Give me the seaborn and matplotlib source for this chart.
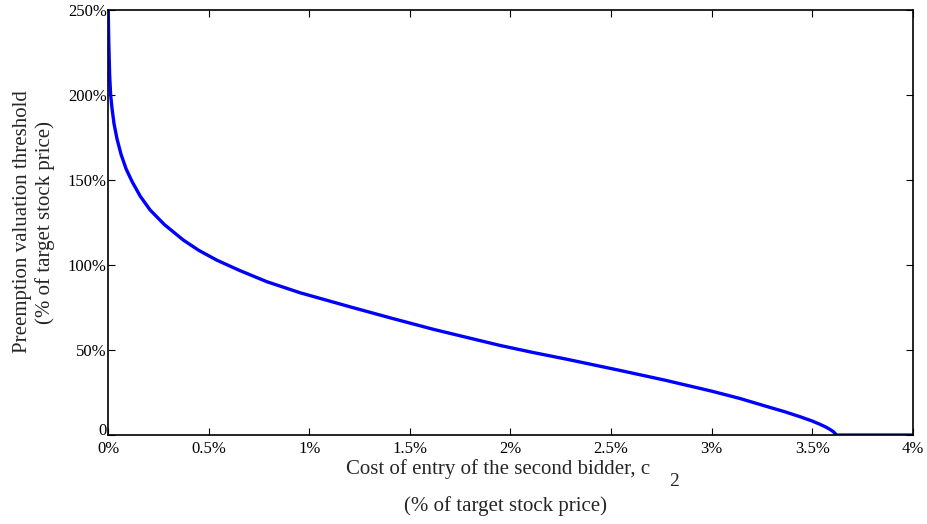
import matplotlib
matplotlib.use("Agg")
import matplotlib.pyplot as plt
import pandas as pd
import seaborn as sns

# cost of entry c2 (% of target stock price)
cost = [0.001, 0.004, 0.008, 0.013, 0.02, 0.03, 0.045, 0.065, 0.09, 0.12,
        0.16, 0.209, 0.28, 0.374, 0.45, 0.54, 0.65, 0.789, 0.954, 1.2, 1.4,
        1.616, 1.78, 1.948, 2.11, 2.279, 2.544, 2.77, 3.0, 3.14, 3.273, 3.36,
        3.438, 3.5, 3.538, 3.565, 3.588, 3.605, 3.62, 4.0]
# preemption valuation threshold (% of target stock price)
threshold = [250, 230, 212, 200, 192, 183, 174, 165, 156.5, 149,
             140.5, 132.4, 123.8, 114.7, 108.7, 102.9, 97, 90.2, 83.7, 75.5,
             69, 62.2, 57.5, 52.7, 48.6, 44.6, 38.0, 32.2, 25.8, 21.5, 16.8,
             13.8, 10.8, 8.2, 6.3, 4.8, 3.3, 1.9, 0, 0]

xticks = [0, 0.5, 1, 1.5, 2, 2.5, 3, 3.5, 4]
xtick_labels = ["0%", "0.5%", "1%", "1.5%", "2%", "2.5%", "3%", "3.5%", "4%"]
yticks = [0, 50, 100, 150, 200, 250]
ytick_labels = ["0", "50%", "100%", "150%", "200%", "250%"]

df = pd.DataFrame({"cost": cost, "threshold": threshold})

sns.set_style("ticks")
plt.rcParams["font.family"] = ["Liberation Serif", "DejaVu Serif"]
plt.rcParams["xtick.direction"] = "in"
plt.rcParams["ytick.direction"] = "in"

fig = plt.figure(figsize=(9.28, 5.24), dpi=100)
ax = fig.add_axes([0.1164, 0.1698, 0.8674, 0.8111])

sns.lineplot(data=df, x="cost", y="threshold", ax=ax, color="#0000ff",
             linewidth=2.4, sort=False)

ax.set_xlim(0, 4)
ax.set_ylim(0, 250)
ax.set_xticks(xticks)
ax.set_xticklabels(xtick_labels, fontsize=12)
ax.set_yticks(yticks)
ax.set_yticklabels(ytick_labels, fontsize=12)
ax.tick_params(top=True, right=True, length=5, width=0.8, pad=1, colors="black")
ax.tick_params(axis="x", pad=4)
ax.get_yticklabels()[0].set_va("baseline")
for s in ax.spines.values():
    s.set_visible(True)
    s.set_color("black")
    s.set_linewidth(1.2)

ax.set_xlabel("")
ax.set_ylabel("")
fig.text(34 / 928, 1 - 222 / 524,
         "Preemption valuation threshold\n(% of target stock price)",
         fontsize=15, rotation=90, ha="center", va="center", linespacing=1.25)
fig.text(498 / 928, 1 - 469 / 524, "Cost of entry of the second bidder, c",
         fontsize=15, ha="center", va="center")
fig.text(674 / 928, 1 - 482 / 524, "2", fontsize=14, ha="center", va="center")
fig.text(506 / 928, 1 - 506 / 524, "(% of target stock price)", fontsize=15,
         ha="center", va="center")

fig.savefig("out.png", dpi=100)
